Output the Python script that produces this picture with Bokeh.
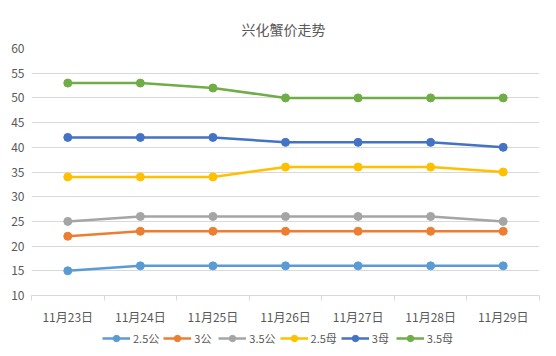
from bokeh.plotting import figure
from bokeh.models import FixedTicker, Legend, LegendItem, Range1d
from bokeh.layouts import column
from bokeh.embed import file_html
from bokeh.resources import INLINE

dates = ["11月23日", "11月24日", "11月25日", "11月26日", "11月27日", "11月28日", "11月29日"]
series_names = ["2.5公", "3公", "3.5公", "2.5母", "3母", "3.5母"]
v_25gong = [15, 16, 16, 16, 16, 16, 16]
v_3gong = [22, 23, 23, 23, 23, 23, 23]
v_35gong = [25, 26, 26, 26, 26, 26, 25]
v_25mu = [34, 34, 34, 36, 36, 36, 35]
v_3mu = [42, 42, 42, 41, 41, 41, 40]
v_35mu = [53, 53, 52, 50, 50, 50, 50]
y_ticks = [10, 15, 20, 25, 30, 35, 40, 45, 50, 55, 60]
colors = ["#5B9BD5", "#ED7D31", "#A5A5A5", "#FFC000", "#4472C4", "#70AD47"]

all_vals = [v_25gong, v_3gong, v_35gong, v_25mu, v_3mu, v_35mu]
FONT = "Noto Sans CJK SC"
TXT = "#595959"

xs = list(range(len(dates)))

p = figure(width=540, height=330, output_backend="svg", toolbar_location=None,
           x_range=Range1d(-0.5, len(dates) - 0.5), y_range=Range1d(10, 60),
           min_border_left=31, min_border_right=1, min_border_top=48, min_border_bottom=35)

p.title.text = "兴化蟹价走势"
p.title.align = "left"
p.title.text_font = FONT
p.title.text_font_size = "14px"
p.title.text_font_style = "normal"
p.title.text_color = TXT
p.title.offset = 210
p.title.standoff = 19

p.outline_line_color = None
p.xgrid.grid_line_color = None
p.ygrid.grid_line_color = "#D9D9D9"
p.ygrid.grid_line_width = 1

p.yaxis.ticker = FixedTicker(ticks=y_ticks)
p.yaxis.axis_line_color = None
p.yaxis.major_tick_line_color = None
p.yaxis.major_tick_out = 0
p.yaxis.major_tick_in = 0
p.yaxis.minor_tick_line_color = None
p.yaxis.major_label_text_font = FONT
p.yaxis.major_label_text_font_size = "12px"
p.yaxis.major_label_text_color = TXT
p.yaxis.major_label_standoff = 7

p.xaxis.ticker = FixedTicker(ticks=xs, minor_ticks=[i - 0.5 for i in range(len(dates) + 1)])
p.xaxis.major_label_overrides = {i: d for i, d in enumerate(dates)}
p.xaxis.axis_line_color = "#D9D9D9"
p.xaxis.major_tick_line_color = None
p.xaxis.minor_tick_line_color = "#D9D9D9"
p.xaxis.minor_tick_in = 0
p.xaxis.minor_tick_out = 5
p.xaxis.major_label_text_font = FONT
p.xaxis.major_label_text_font_size = "12px"
p.xaxis.major_label_text_color = TXT
p.xaxis.major_label_standoff = 6

for vals, c in zip(all_vals, colors):
    p.line(xs, vals, line_color=c, line_width=2.5)
    p.scatter(xs, vals, size=8, fill_color=c, line_color=c)

# legend strip below the chart (series drawn outside its visible range, only the key shows)
lf = figure(width=540, height=16, output_backend="svg", toolbar_location=None,
            x_range=Range1d(100, 101), y_range=Range1d(100, 101),
            min_border=0, x_axis_location=None, y_axis_location=None)
lf.outline_line_color = None
lf.xgrid.grid_line_color = None
lf.ygrid.grid_line_color = None

items = []
for name, vals, c in zip(series_names, all_vals, colors):
    l = lf.line(xs, vals, line_color=c, line_width=2.5)
    s = lf.scatter(xs, vals, size=8, fill_color=c, line_color=c)
    items.append(LegendItem(label=name, renderers=[l, s]))

legend = Legend(items=items, orientation="horizontal", location=(71, 0),
                label_text_font=FONT, label_text_font_size="11px", label_text_color=TXT,
                label_height=16, glyph_width=28, glyph_height=16, spacing=4, label_standoff=3,
                border_line_color=None, background_fill_alpha=0, padding=0, margin=0)
lf.add_layout(legend, "center")

layout = column(p, lf, spacing=0)
open("out.html", "w").write(file_html(layout, INLINE))
